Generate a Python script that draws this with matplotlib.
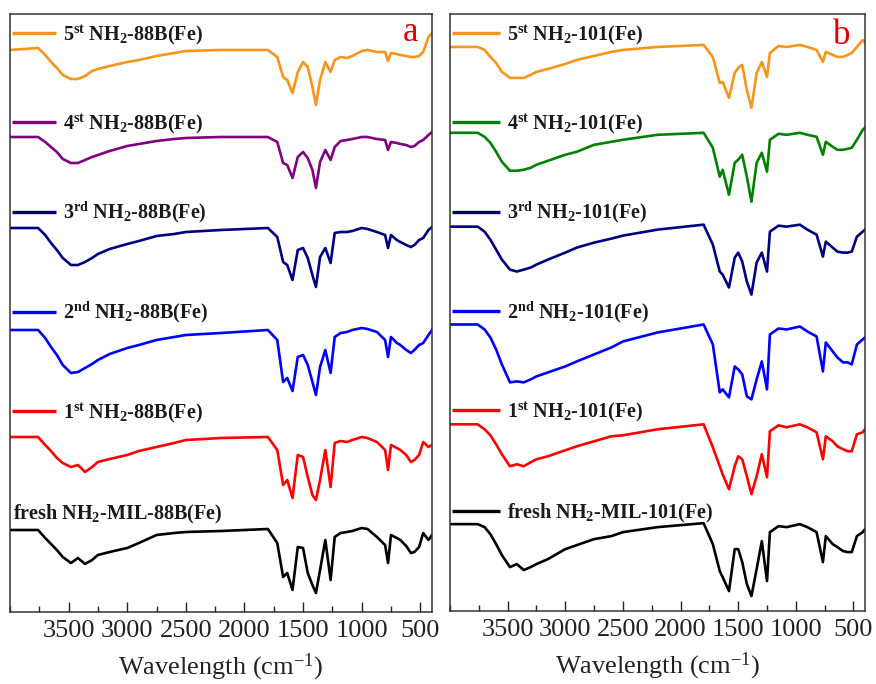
import matplotlib
matplotlib.use("Agg")
import matplotlib.pyplot as plt
from matplotlib.transforms import offset_copy
from matplotlib.ticker import MultipleLocator, FixedLocator

plt.rcParams['font.family'] = ['Liberation Serif', 'DejaVu Serif']
plt.rcParams['mathtext.fontset'] = 'custom'
plt.rcParams['mathtext.rm'] = 'Liberation Serif'
plt.rcParams['mathtext.bf'] = 'Liberation Serif:bold'
plt.rcParams['mathtext.it'] = 'Liberation Serif:italic'

# ---------------- data (transmittance, a.u., stacked) ----------------
wn_a = [4000, 3760, 3700, 3650, 3600, 3550, 3480, 3420, 3360, 3300,
        3250, 3150, 3000, 2900, 2750, 2600, 2500, 2200, 1800, 1720,
        1670, 1635, 1590, 1545, 1500, 1460, 1420, 1390, 1355, 1310,
        1265, 1230, 1180, 1125, 1080, 1000, 950, 870, 800, 775,
        750, 700, 670, 620, 580, 550, 510, 475, 430, 400]

a_5st = [562, 564, 557, 550, 544, 537, 533, 533, 536, 541,
         543, 546, 550, 552, 556, 559, 561, 562, 562, 555,
         535, 532, 519, 540, 550, 545, 525, 507, 532, 550,
         540, 552, 555, 554, 556, 561, 562, 560, 560, 551,
         559, 558, 557, 556, 555, 555, 556, 560, 575, 579]
a_4st = [475, 475, 470, 465, 460, 453, 449, 449, 452, 455,
         457, 461, 466, 468, 471, 473, 474, 475, 475, 470,
         449, 447, 434, 455, 460, 454, 442, 424, 450, 462,
         452, 465, 471, 472, 473, 475, 475, 473, 472, 462,
         470, 469, 468, 467, 465, 466, 470, 472, 477, 480]
a_3rd = [384, 384, 377, 369, 362, 354, 347, 347, 350, 354,
         358, 363, 368, 371, 376, 378, 380, 382, 384, 375,
         350, 347, 332, 362, 364, 354, 337, 325, 355, 364,
         349, 379, 380, 380, 381, 384, 383, 380, 377, 364,
         377, 372, 370, 367, 365, 367, 372, 374, 382, 385]
a_2nd = [282, 282, 274, 265, 257, 247, 239, 240, 244, 248,
         252, 258, 264, 267, 272, 275, 277, 279, 282, 272,
         230, 234, 221, 255, 257, 247, 230, 217, 245, 262,
         239, 275, 279, 280, 282, 284, 283, 280, 272, 255,
         275, 269, 267, 262, 259, 262, 267, 269, 277, 282]
a_1st = [175, 175, 167, 161, 154, 149, 145, 147, 140, 145,
         150, 153, 157, 161, 165, 169, 172, 174, 175, 162,
         127, 132, 114, 157, 155, 135, 117, 112, 132, 162,
         125, 169, 171, 170, 172, 175, 174, 170, 162, 142,
         167, 164, 162, 157, 150, 152, 157, 170, 165, 167]
a_fresh = [82, 82, 74, 68, 62, 55, 49, 54, 48, 52,
           57, 60, 64, 69, 77, 79, 80, 81, 83, 69,
           35, 39, 22, 65, 64, 39, 27, 19, 42, 72,
           32, 75, 79, 80, 81, 84, 83, 75, 67, 49,
           77, 74, 72, 66, 59, 60, 65, 79, 72, 77]

wn_b = [4000, 3760, 3700, 3650, 3600, 3550, 3480, 3420, 3360, 3300,
        3250, 3150, 3000, 2900, 2750, 2600, 2500, 2200, 1800, 1720,
        1660, 1635, 1580, 1530, 1500, 1465, 1425, 1385, 1340, 1295,
        1250, 1225, 1150, 1080, 965, 900, 820, 765, 740, 680,
        640, 590, 550, 515, 470, 420, 400]

b_5st = [565, 565, 562, 555, 549, 540, 534, 534, 534, 537,
         540, 543, 548, 552, 556, 560, 562, 565, 567, 555,
         529, 530, 514, 539, 544, 547, 522, 504, 539, 550,
         535, 559, 566, 565, 567, 565, 562, 550, 560, 557,
         555, 555, 557, 559, 565, 572, 569]
b_4st = [479, 479, 475, 469, 460, 450, 441, 441, 442, 444,
         447, 451, 457, 460, 467, 470, 472, 477, 479, 464,
         435, 442, 417, 449, 452, 457, 435, 410, 449, 459,
         440, 472, 478, 477, 479, 477, 475, 457, 470, 465,
         462, 462, 463, 464, 472, 482, 484]
b_3rd = [385, 385, 380, 372, 362, 352, 342, 340, 342, 344,
         347, 352, 359, 364, 369, 373, 376, 382, 387, 367,
         340, 337, 324, 354, 359, 350, 330, 317, 349, 359,
         340, 380, 386, 385, 387, 382, 377, 355, 370, 364,
         360, 359, 359, 360, 375, 380, 382]
b_2nd = [287, 287, 282, 274, 262, 247, 229, 230, 229, 232,
         235, 239, 245, 250, 257, 264, 270, 279, 287, 267,
         219, 222, 214, 245, 242, 237, 215, 212, 232, 250,
         222, 277, 283, 282, 285, 280, 275, 240, 269, 260,
         254, 249, 249, 247, 267, 272, 274]
b_1st = [187, 187, 182, 176, 167, 157, 145, 147, 145, 149,
         152, 155, 161, 165, 170, 175, 176, 182, 187, 164,
         145, 137, 122, 145, 155, 152, 135, 117, 135, 157,
         134, 180, 186, 184, 187, 184, 179, 152, 175, 170,
         165, 162, 160, 160, 177, 179, 182]
b_fresh = [87, 87, 84, 77, 67, 56, 44, 47, 41, 44,
           47, 52, 62, 66, 72, 75, 79, 84, 88, 67,
           40, 34, 20, 62, 62, 49, 27, 15, 42, 70,
           30, 79, 85, 84, 87, 84, 79, 49, 75, 67,
           64, 60, 59, 59, 75, 79, 82]

labels_a = [r'5$^{\mathbf{st}}$ NH$_{\mathbf{2}}$-88B(Fe)',
            r'4$^{\mathbf{st}}$ NH$_{\mathbf{2}}$-88B(Fe)',
            r'3$^{\mathbf{rd}}$ NH$_{\mathbf{2}}$-88B(Fe)',
            r'2$^{\mathbf{nd}}$ NH$_{\mathbf{2}}$-88B(Fe)',
            r'1$^{\mathbf{st}}$ NH$_{\mathbf{2}}$-88B(Fe)',
            r'fresh NH$_{\mathbf{2}}$-MIL-88B(Fe)']
labels_b = [r'5$^{\mathbf{st}}$ NH$_{\mathbf{2}}$-101(Fe)',
            r'4$^{\mathbf{st}}$ NH$_{\mathbf{2}}$-101(Fe)',
            r'3$^{\mathbf{rd}}$ NH$_{\mathbf{2}}$-101(Fe)',
            r'2$^{\mathbf{nd}}$ NH$_{\mathbf{2}}$-101(Fe)',
            r'1$^{\mathbf{st}}$ NH$_{\mathbf{2}}$-101(Fe)',
            r'fresh NH$_{\mathbf{2}}$-MIL-101(Fe)']

colors_a = ['#F7941D', '#800080', '#000080', '#0000FF', '#FF0000', '#000000']
colors_b = ['#F7941D', '#008000', '#000080', '#0000FF', '#FF0000', '#000000']

series_a = [a_5st, a_4st, a_3rd, a_2nd, a_1st, a_fresh]
series_b = [b_5st, b_4st, b_3rd, b_2nd, b_1st, b_fresh]

xticks = [3500, 3000, 2500, 2000, 1500, 1000, 500]

# ---------------- figure ----------------
W, H = 876, 684
fig = plt.figure(figsize=(W / 100, H / 100), dpi=100)

def px_axes(l, r, t, b):
    return fig.add_axes([l / W, 1 - b / H, (r - l) / W, (b - t) / H])

ax_a = px_axes(10, 432, 14, 612)
ax_b = px_axes(450, 865, 14, 611)

legend_y = [0.968, 0.819, 0.669, 0.502, 0.336, 0.167]

def setup(ax, wn, series, colors, labels, letter, letter_xy, show_line_last, text_x):
    for y, c in zip(series, colors):
        ax.plot(wn, y, color=c, lw=1.9, solid_joinstyle='round')
    ax.set_xlim(4000, 400)
    ax.set_ylim(0, 598)
    ax.set_yticks([])
    ax.xaxis.set_major_locator(FixedLocator(xticks))
    ax.xaxis.set_minor_locator(MultipleLocator(250))
    ax.tick_params(axis='x', which='major', direction='in', length=7, width=1.0,
                   labelsize=19, pad=6, top=False, colors='#222222', labelcolor='#222222')
    ax.tick_params(axis='x', which='minor', direction='in', length=4, width=1.0, top=False,
                   colors='#222222')
    for s in ax.spines.values():
        s.set_linewidth(1.1)
        s.set_color('#333333')
    ax.set_xlabel(r'Wavelength (cm$^{\mathregular{-1}}$)', fontsize=19, labelpad=7, color='#222222')
    base = offset_copy(ax.transAxes, fig=fig, x=0, y=-5, units='points')
    for i, (ly, c, lab) in enumerate(zip(legend_y, colors, labels)):
        if i == len(labels) - 1 and not show_line_last:
            ax.text(0.008, ly, lab, transform=base, fontsize=14.5, fontweight='bold',
                    color='#1a1a1a', ha='left', va='baseline')
            continue
        ax.plot([0.005, text_x - 0.016], [ly, ly], color=c, lw=2.4, transform=ax.transAxes,
                solid_capstyle='butt')
        ax.text(text_x, ly, lab, transform=base, fontsize=14.5, fontweight='bold',
                color='#1a1a1a', ha='left', va='baseline')
    ax.text(letter_xy[0], letter_xy[1], letter, transform=ax.transAxes, fontsize=25,
            color='#E00000', ha='center', va='baseline')

setup(ax_a, wn_a, series_a, colors_a, labels_a, 'a', (0.948, 0.955), False, 0.126)
setup(ax_b, wn_b, series_b, colors_b, labels_b, 'b', (0.945, 0.950), True, 0.137)

fig.savefig('out.png', dpi=100)
